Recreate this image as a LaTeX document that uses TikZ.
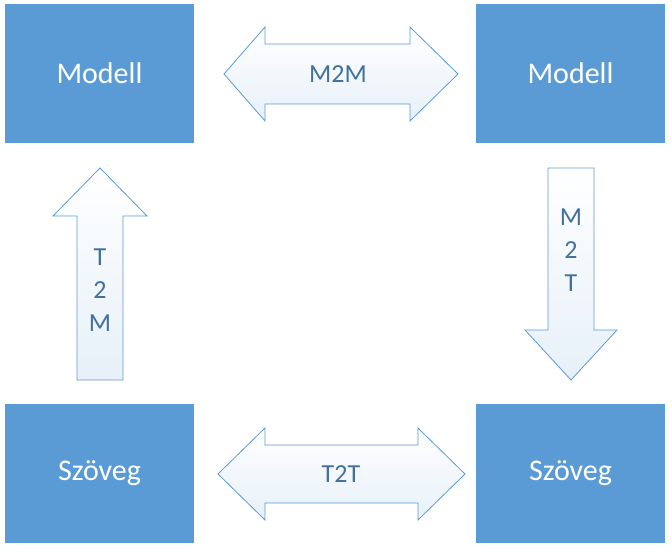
\documentclass[tikz,border=0pt]{standalone}
\usepackage{fontspec}
\setmainfont{Carlito}
\usetikzlibrary{positioning}
\definecolor{boxblue}{HTML}{5B9BD5}
\definecolor{labblue}{HTML}{41719C}
\begin{document}
\begin{tikzpicture}[x=1pt,y=-1pt,
% box and arrow styles
		box/.style={rectangle
							    , fill=boxblue
							    , text=white
							    , minimum width=189pt
							    , minimum height=139pt
							    , font=\fontsize{30}{36}\selectfont},
		arr/.style={draw=boxblue
							    , top color=white
							    , bottom color=boxblue!15
							    , line width=0.8pt},
		lab/.style={text=labblue
							    , align=center
							    , font=\fontsize{26}{33}\selectfont}
	]
	\useasboundingbox (0,0) rectangle (672,554);
%% boxes
	\node [box] (m1) at (99.5,73.5) {Modell};
	\node [box] (m2) at (570.5,73.5) {Modell};
	\node [box] (s1) at (99.5,473.5) {Szöveg};
	\node [box] (s2) at (570.5,473.5) {Szöveg};
%% arrows
	\draw [arr] (224,74) -- (265,27) -- (265,44) -- (410,44) -- (410,27) -- (458,74)
		-- (410,121) -- (410,104) -- (265,104) -- (265,121) -- cycle;
	\draw [arr] (218,474) -- (265,428) -- (265,445) -- (418,445) -- (418,428) -- (465,474)
		-- (418,520) -- (418,503) -- (265,503) -- (265,520) -- cycle;
	\draw [arr] (100,168) -- (147,216) -- (123,216) -- (123,380) -- (77,380) -- (77,216)
		-- (53,216) -- cycle;
	\draw [arr] (571,380) -- (617,330) -- (594,330) -- (594,168) -- (548,168) -- (548,330)
		-- (525,330) -- cycle;
%% labels
	\node [lab] (l1) at (338,74) {M2M};
	\node [lab] (l2) at (341,474) {T2T};
	\node [lab] (l3) at (100,290) {T\\2\\M};
	\node [lab] (l4) at (571,250) {M\\2\\T};
\end{tikzpicture}
\end{document}
